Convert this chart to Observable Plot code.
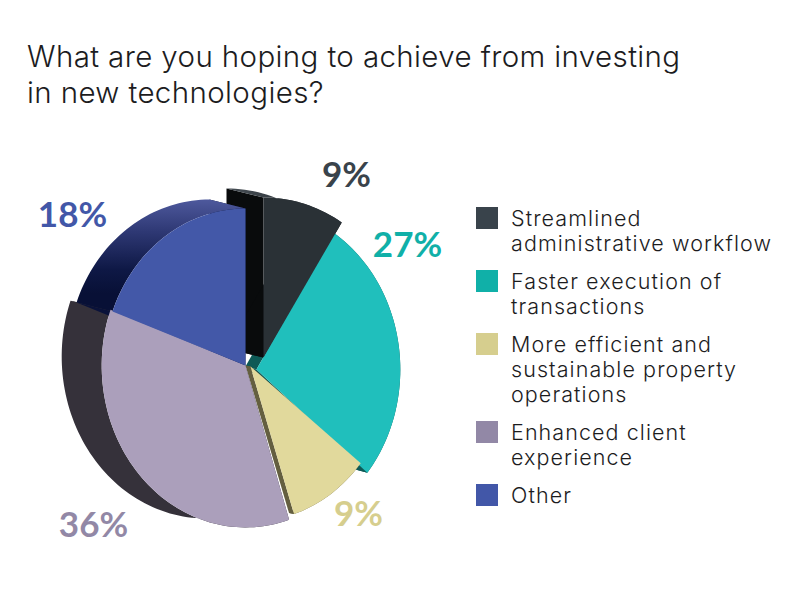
<!DOCTYPE html>
<html>
<head>
<meta charset="utf-8">
<script src="https://cdn.jsdelivr.net/npm/d3@7"></script>
<script src="https://cdn.jsdelivr.net/npm/@observablehq/plot@0.6"></script>
<style>
  html, body { margin: 0; padding: 0; background: #fff; }
  body { width: 800px; height: 600px; overflow: hidden; font-family: Inter, Lato, sans-serif; color: #1c1c1e; }
  h1 { margin: 0; padding: 38px 0 0 27px; height: 80px; font-size: 29.5px; font-weight: 300; line-height: 36px; letter-spacing: 0.38px; white-space: nowrap; }
  #row { display: flex; align-items: flex-start; }
  #legend { margin: 89px 0 0 16px; width: 324px; }
  .item { display: flex; align-items: flex-start; margin-bottom: 14px; }
  .sw { width: 22px; height: 22px; margin: 0 13px 0 0; flex: none; }
  .tx { font-size: 21.5px; font-weight: 300; line-height: 25px; letter-spacing: 1.08px; white-space: pre; margin-top: -1px; }
</style>
</head>
<body>
<h1>What are you hoping to achieve from investing<br>in new technologies?</h1>
<div id="row"><div id="chart"></div><div id="legend"></div></div>
<script>
const categories = ["Streamlined\nadministrative workflow", "Faster execution of\ntransactions", "More efficient and\nsustainable property\noperations", "Enhanced client\nexperience", "Other"];
const values = [9, 27, 9, 36, 18];
const labels = ["9%", "27%", "9%", "36%", "18%"];
const legendColors = ["#39434b", "#10b0a8", "#d6ce8e", "#9288a6", "#4257a8"];
const faceColors = ["#2a3136", "#20bfbc", "#e1d99c", "#ab9fbb", "#4358a8"];
const sideColors = ["#090b0c", "#0e5a56", "#645f40", "#35313a", "#0a123a"];

// Layout of the extruded pie, in pixels of the svg
const W = 460, H = 482, CX = 245, CY = 247, RX = 146, RY = 160;
// Per-slice placement: offset of the apex, radii ratio, extrusion and small perspective corrections of the angles
const sliceOffset = [[18, -8], [11, 4], [5, 1], [0, 0], [0, 0]];
const sliceRadius = [[1, 1], [0.985, 1.012], [0.965, 0.97], [0.985, 1.012], [0.97, 0.981]];
const sliceDepth = [[37, 9], [11, 3], [5, 1], [40, 9], [36, 9]];
const sliceNudge = [[0, 0], [0, 0], [-0.003, 0], [0.001, -0.004], [-0.004, 0]];
const labelAnchor = [[346, 57], [407, 127], [358, 396], [93, 407], [72, 97]];

const px = v => (v - CX) / RX, py = v => (CY - v) / RY;

let acc = 0;
const slices = values.map((v, i) => {
  const t0 = acc / 100 + sliceNudge[i][0];
  acc += v;
  const t1 = (i === values.length - 1 ? 1 : acc / 100) + sliceNudge[i][1];
  return {i, t0, t1, ox: sliceOffset[i][0], oy: sliceOffset[i][1], rx: sliceRadius[i][0], ry: sliceRadius[i][1], dx: sliceDepth[i][0], dy: sliceDepth[i][1]};
});

function arcPts(s, shift) {
  const n = Math.max(2, Math.ceil((s.t1 - s.t0) * 200));
  const sx = shift ? s.dx : 0, sy = shift ? s.dy : 0;
  return d3.range(n + 1).map(k => {
    const a = 2 * Math.PI * (s.t0 + (s.t1 - s.t0) * k / n);
    return {x: px(CX + s.ox - sx) + s.rx * Math.sin(a), y: py(CY + s.oy - sy) + s.ry * Math.cos(a)};
  });
}
const apex = (s, shift) => ({x: px(CX + s.ox - (shift ? s.dx : 0)), y: py(CY + s.oy - (shift ? s.dy : 0))});
const face = s => [apex(s), ...arcPts(s)];
const arcStrip = s => [...arcPts(s), ...arcPts(s, true).reverse()];
const startStrip = s => { const a = arcPts(s)[0], b = arcPts(s, true)[0]; return [apex(s), a, b, apex(s, true)]; };
const endStrip = s => { const p = arcPts(s), q = arcPts(s, true); return [apex(s), p[p.length - 1], q[q.length - 1], apex(s, true)]; };

const poly = (pts, fill) => Plot.line(pts, {x: "x", y: "y", fill, stroke: "none", curve: "linear"});
const sideMarks = (s, arcFill) => [
  poly(startStrip(s), sideColors[s.i]),
  poly(endStrip(s), sideColors[s.i]),
  poly(arcStrip(s), arcFill || sideColors[s.i])
];

const defs = () => {
  const d = d3.create("svg:defs");
  const a = d.append("linearGradient").attr("id", "blueSide").attr("gradientUnits", "userSpaceOnUse")
    .attr("x1", 0).attr("x2", 0).attr("y1", 80).attr("y2", 175);
  [[0, "#4f5a9e"], [0.35, "#2e3874"], [0.75, "#0e1845"], [1, "#081036"]].forEach(([o, c]) => a.append("stop").attr("offset", o).attr("stop-color", c));
  const b = d.append("linearGradient").attr("id", "darkCap").attr("gradientUnits", "userSpaceOnUse")
    .attr("x1", 226).attr("x2", 310).attr("y1", 0).attr("y2", 0);
  [[0, "#474e55"], [1, "#2a3136"]].forEach(([o, c]) => b.append("stop").attr("offset", o).attr("stop-color", c));
  return d.node();
};

const order = [1, 0, 2, 3, 4];
const arcFills = {0: "url(#darkCap)", 4: "url(#blueSide)"};

const plot = Plot.plot({
  width: W, height: H,
  margin: 0,
  x: {domain: [px(0), px(W)], range: [0, W], axis: null},
  y: {domain: [py(H), py(0)], range: [H, 0], axis: null},
  color: {domain: categories, range: legendColors},
  style: {background: "transparent", overflow: "visible"},
  marks: [
    defs,
    ...order.flatMap(i => sideMarks(slices[i], arcFills[i])),
    ...order.map(i => poly(face(slices[i]), faceColors[i])),
    ...labels.map((t, i) => Plot.text([t], {
      text: d => d,
      x: px(labelAnchor[i][0]), y: py(labelAnchor[i][1]),
      fill: legendColors[i],
      fontSize: 35, fontWeight: 700, fontFamily: "Lato, sans-serif", textAnchor: "middle"
    }))
  ]
});
document.getElementById("chart").append(plot);

const color = plot.scale("color");
const legend = d3.select("#legend");
categories.forEach(c => {
  const it = legend.append("div").attr("class", "item");
  it.append("div").attr("class", "sw").style("background", color.apply(c));
  it.append("div").attr("class", "tx").text(c);
});
</script>
</body>
</html>
